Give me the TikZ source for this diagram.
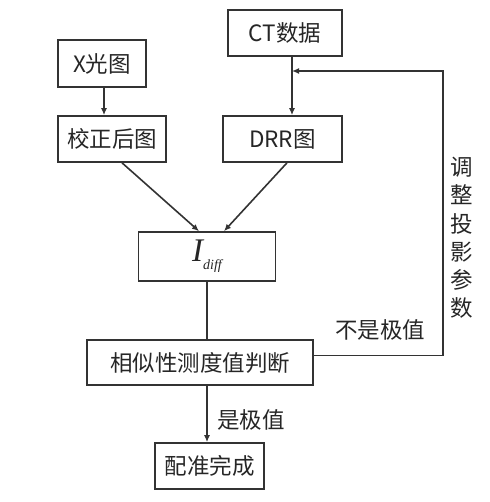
\documentclass[tikz,border=0pt]{standalone}
\usepackage{fontspec}
\setmainfont{Noto Sans CJK SC}
\newfontfamily\tms{Liberation Serif}
\usepackage{tikz}
\usetikzlibrary{arrows.meta,positioning,calc}

\begin{document}
\begin{tikzpicture}[
			x = 1pt, y = -1pt,
			line width = 1.6pt,
			every node/.style = {text = black!85, font = \fontsize{22.5}{26}\selectfont},
			box/.style = {draw = black!80, inner sep = 0pt},
			arr/.style = {draw = black!80, -{Latex[length=7pt,width=6pt]}},
			ln/.style = {draw = black!80}
		]

			\useasboundingbox (0,0) rectangle (489,502);

			% boxes
			\node[box, minimum width = 88pt, minimum height = 47pt] (xray) at (102,63.5) {X光图};
			\node[box, minimum width = 114pt, minimum height = 46pt] (ct) at (285,33) {CT数据};
			\node[box, minimum width = 108pt, minimum height = 46pt] (corr) at (112,139) {校正后图};
			\node[box, minimum width = 119pt, minimum height = 46pt] (drr) at (282.5,139) {DRR图};
			\node[box, minimum width = 137pt, minimum height = 49pt] (idiff) at (207,256.5) {\tms\itshape\fontsize{33}{36}\selectfont I\raisebox{-8pt}{\fontsize{14}{16}\selectfont diff}\hspace{22pt}};
			\node[box, minimum width = 226pt, minimum height = 45pt] (sim) at (200,362.5) {相似性测度值判断};
			\node[box, minimum width = 109pt, minimum height = 46pt] (done) at (209.5,466) {配准完成};

			\coordinate (join) at (292,71);
			\coordinate (turn) at (443,71);

			% connectors
			\draw[arr] (xray.south -| 104,0) -- (corr.north -| 104,0);
			\draw[arr] (join |- ct.south) -- (join |- drr.north);
			\draw[arr] ([xshift=10pt]corr.south) -- ([xshift=-8pt]idiff.north);
			\draw[arr] ([xshift=4.5pt]drr.south) -- ([xshift=17pt]idiff.north);
			\draw[ln] (idiff.south) -- (idiff.south |- sim.north);
			\draw[arr] (idiff.south |- sim.south) -- (idiff.south |- done.north);
			\draw[arr] ([yshift=7pt]sim.east) -| (turn) -- (join);

			% labels
			\node[anchor = west] (yes) at (213,420) {是极值};
			\node (no) at (380,330) {不是极值};
			\node[align = center, font = \fontsize{22.5}{28.2}\selectfont] (adj) at (462,238) {调\\整\\投\\影\\参\\数};

		\end{tikzpicture}
\end{document}
